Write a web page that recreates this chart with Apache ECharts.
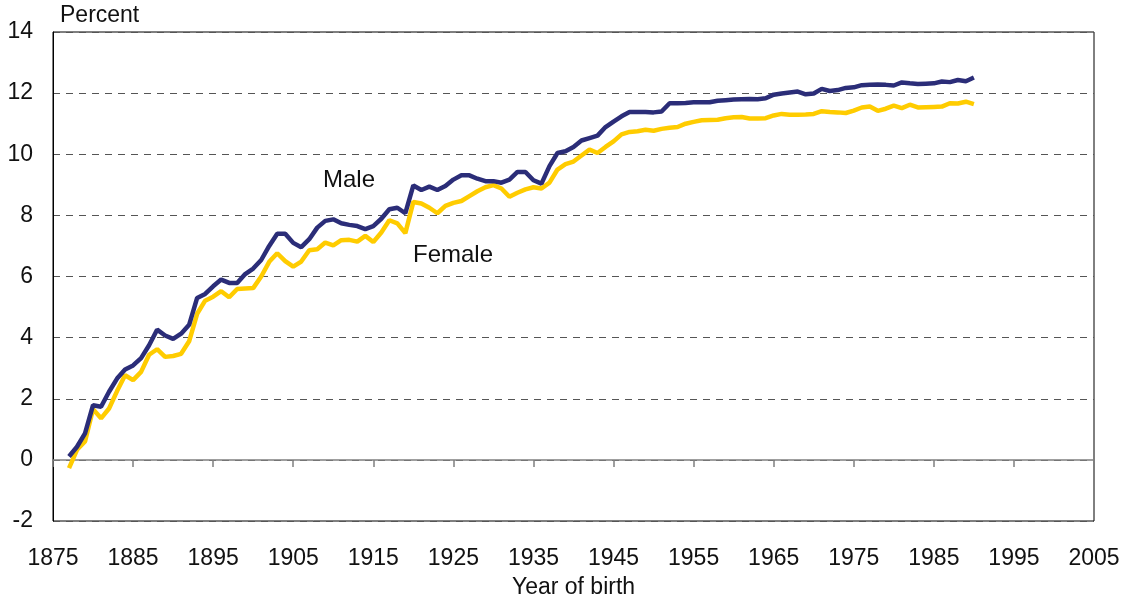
<!DOCTYPE html>
<html>
<head>
<meta charset="utf-8">
<script src="https://cdn.jsdelivr.net/npm/echarts@6/dist/echarts.min.js"></script>
<style>
  html, body { margin: 0; padding: 0; background: #fff; }
  #main { width: 1125px; height: 604px; }
</style>
</head>
<body>
<div id="main"></div>
<script>
// years of birth, 1877 .. 1990
var years = [];
for (var y = 1877; y <= 1990; y++) years.push(y);

var male = [
  0.11, 0.43, 0.87, 1.79, 1.74, 2.23, 2.66, 2.96, 3.09, 3.33,
  3.75, 4.26, 4.07, 3.96, 4.13, 4.42, 5.30, 5.43, 5.68, 5.90,
  5.79, 5.79, 6.08, 6.26, 6.54, 7.00, 7.40, 7.40, 7.10, 6.96,
  7.22, 7.60, 7.82, 7.87, 7.74, 7.69, 7.65, 7.55, 7.65, 7.89,
  8.20, 8.25, 8.07, 8.98, 8.83, 8.94, 8.83, 8.96, 9.17, 9.31,
  9.31, 9.20, 9.12, 9.12, 9.07, 9.17, 9.42, 9.42, 9.15, 9.04,
  9.61, 10.04, 10.10, 10.24, 10.45, 10.53, 10.61, 10.89, 11.07, 11.24,
  11.38, 11.38, 11.38, 11.37, 11.40, 11.67, 11.67, 11.68, 11.70, 11.70,
  11.70, 11.75, 11.77, 11.79, 11.80, 11.81, 11.80, 11.83, 11.95, 11.99,
  12.02, 12.05, 11.96, 11.99, 12.14, 12.07, 12.10, 12.17, 12.19, 12.26,
  12.27, 12.28, 12.27, 12.25, 12.35, 12.32, 12.30, 12.31, 12.32, 12.38,
  12.36, 12.43, 12.39, 12.51
];

var female = [
  -0.27, 0.33, 0.60, 1.66, 1.36, 1.68, 2.25, 2.77, 2.61, 2.88,
  3.44, 3.62, 3.37, 3.40, 3.47, 3.88, 4.78, 5.21, 5.34, 5.52,
  5.32, 5.59, 5.61, 5.62, 6.00, 6.48, 6.76, 6.50, 6.32, 6.49,
  6.86, 6.89, 7.11, 7.02, 7.19, 7.20, 7.14, 7.33, 7.13, 7.44,
  7.84, 7.74, 7.42, 8.44, 8.39, 8.25, 8.07, 8.31, 8.41, 8.47,
  8.63, 8.79, 8.92, 8.99, 8.88, 8.61, 8.74, 8.85, 8.92, 8.88,
  9.07, 9.50, 9.68, 9.76, 9.96, 10.15, 10.04, 10.24, 10.42, 10.65,
  10.73, 10.75, 10.80, 10.77, 10.83, 10.87, 10.89, 11.00, 11.06, 11.11,
  11.12, 11.13, 11.18, 11.21, 11.22, 11.17, 11.17, 11.18, 11.27, 11.32,
  11.29, 11.29, 11.30, 11.32, 11.41, 11.38, 11.37, 11.35, 11.43, 11.53,
  11.56, 11.42, 11.49, 11.59, 11.51, 11.62, 11.53, 11.54, 11.55, 11.56,
  11.67, 11.66, 11.72, 11.64
];

function pairs(vals) {
  return vals.map(function (v, i) { return [years[i], v]; });
}

var FONT = '"Liberation Sans", Arial, sans-serif';

var myChart = echarts.init(document.getElementById('main'));

var option = {
  animation: false,
  grid: {
    left: 53, right: 31, top: 32, bottom: 81,
    show: true, borderColor: '#000', borderWidth: 1,
    containLabel: false
  },
  xAxis: [
    {
      // axis line sitting on zero, with ticks
      type: 'value', min: 1875, max: 2005, interval: 10,
      axisLine: { show: true, onZero: true, lineStyle: { color: '#808080', width: 1.5 } },
      axisTick: { show: true, length: 7, lineStyle: { color: '#808080', width: 1.5 } },
      axisLabel: { show: false },
      splitLine: { show: false }
    },
    {
      // labels along the bottom
      type: 'value', min: 1875, max: 2005, interval: 10, position: 'bottom',
      axisLine: { show: false },
      axisTick: { show: false },
      axisLabel: {
        show: true, color: '#111', fontSize: 23, fontFamily: FONT, margin: 26,
        formatter: function (v) { return String(v); }
      },
      splitLine: { show: false },
      name: 'Year of birth', nameLocation: 'middle', nameGap: 55,
      nameTextStyle: { color: '#111', fontSize: 23, fontFamily: FONT }
    }
  ],
  yAxis: {
    type: 'value', min: -2, max: 14, interval: 2,
    axisLine: { show: true, lineStyle: { color: '#000' } },
    axisTick: { show: false },
    axisLabel: { color: '#111', fontSize: 23, fontFamily: FONT, margin: 20 },
    splitLine: { show: true, lineStyle: { color: '#555', type: [7, 6], width: 1 } }
  },
  graphic: [
    { type: 'text', left: 60, top: 4, style: { text: 'Percent', fill: '#111', font: '23px ' + FONT } },
    { type: 'text', left: 323, top: 168, style: { text: 'Male', fill: '#111', font: '24px ' + FONT } },
    { type: 'text', left: 413, top: 243, style: { text: 'Female', fill: '#111', font: '24px ' + FONT } }
  ],
  series: [
    {
      name: 'Female', type: 'line', xAxisIndex: 0, showSymbol: false,
      data: pairs(female),
      lineStyle: { color: '#FFCC00', width: 4.5 },
      itemStyle: { color: '#FFCC00' }
    },
    {
      name: 'Male', type: 'line', xAxisIndex: 0, showSymbol: false,
      data: pairs(male),
      lineStyle: { color: '#2B2D78', width: 4.5 },
      itemStyle: { color: '#2B2D78' }
    }
  ]
};

myChart.setOption(option);
</script>
</body>
</html>
